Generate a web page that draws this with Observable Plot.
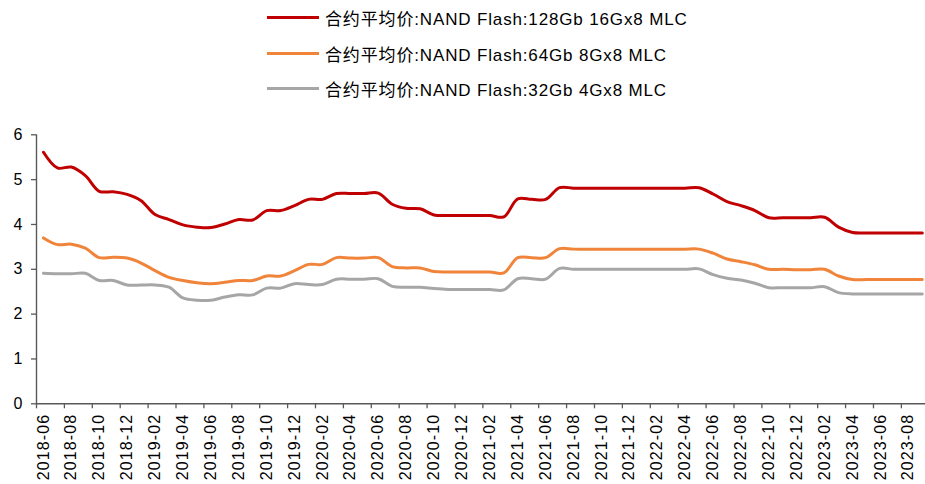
<!DOCTYPE html>
<html>
<head>
<meta charset="utf-8">
<script src="https://cdn.jsdelivr.net/npm/d3@7"></script>
<script src="https://cdn.jsdelivr.net/npm/@observablehq/plot@0.6"></script>
<style>
  html, body { margin: 0; padding: 0; background: #fff; }
  body { width: 925px; height: 484px; overflow: hidden; font-family: "Liberation Sans", "Noto Sans CJK SC", sans-serif; }
  #legend { position: relative; width: 925px; height: 110px; }
  .row { position: absolute; left: 267px; height: 20px; display: flex; align-items: center; font-size: 17px; letter-spacing: 0.85px; color: #000; white-space: nowrap; }
  .swatch { width: 52px; height: 3px; margin-right: 6px; }
  g[aria-label="x-axis tick label"] text { letter-spacing: 1.1px; }
</style>
</head>
<body>
<div id="legend"></div>
<div id="chart"></div>
<script>
const months = [
  "2018-06","2018-07","2018-08","2018-09","2018-10","2018-11","2018-12",
  "2019-01","2019-02","2019-03","2019-04","2019-05","2019-06","2019-07","2019-08","2019-09","2019-10","2019-11","2019-12",
  "2020-01","2020-02","2020-03","2020-04","2020-05","2020-06","2020-07","2020-08","2020-09","2020-10","2020-11","2020-12",
  "2021-01","2021-02","2021-03","2021-04","2021-05","2021-06","2021-07","2021-08","2021-09","2021-10","2021-11","2021-12",
  "2022-01","2022-02","2022-03","2022-04","2022-05","2022-06","2022-07","2022-08","2022-09","2022-10","2022-11","2022-12",
  "2023-01","2023-02","2023-03","2023-04","2023-05","2023-06","2023-07","2023-08","2023-09"
];
const seriesNames = [
  "合约平均价:NAND Flash:128Gb 16Gx8 MLC",
  "合约平均价:NAND Flash:64Gb 8Gx8 MLC",
  "合约平均价:NAND Flash:32Gb 4Gx8 MLC"
];
const seriesColors = ["#C00000", "#F0843A", "#A6A6A6"];
const red = [
  5.61,5.26,5.28,5.09,4.74,4.73,4.67,
  4.53,4.22,4.11,3.99,3.94,3.93,4.01,4.11,4.10,4.31,4.31,4.42,
  4.56,4.56,4.69,4.69,4.69,4.70,4.45,4.36,4.35,4.21,4.20,4.20,
  4.20,4.20,4.17,4.57,4.56,4.56,4.82,4.81,4.81,4.81,4.81,4.81,
  4.81,4.81,4.81,4.81,4.82,4.68,4.51,4.42,4.31,4.15,4.15,4.15,
  4.15,4.16,3.94,3.82,3.81,3.81,3.81,3.81,3.81
];
const orange = [
  3.70,3.55,3.56,3.47,3.26,3.27,3.25,
  3.14,2.97,2.82,2.75,2.70,2.68,2.71,2.75,2.75,2.85,2.85,2.97,
  3.11,3.11,3.26,3.25,3.25,3.26,3.06,3.03,3.03,2.95,2.94,2.94,
  2.94,2.94,2.92,3.26,3.26,3.26,3.46,3.45,3.45,3.45,3.45,3.45,
  3.45,3.45,3.45,3.45,3.45,3.36,3.23,3.17,3.10,3.00,3.00,2.99,
  2.99,3.00,2.85,2.77,2.77,2.77,2.77,2.77,2.77
];
const gray = [
  2.91,2.90,2.90,2.91,2.75,2.75,2.65,
  2.65,2.65,2.60,2.36,2.31,2.31,2.38,2.43,2.43,2.58,2.58,2.68,
  2.66,2.66,2.78,2.78,2.78,2.79,2.62,2.60,2.60,2.57,2.55,2.55,
  2.55,2.55,2.54,2.79,2.79,2.78,3.02,3.00,3.00,3.00,3.00,3.00,
  3.00,3.00,3.00,3.00,3.01,2.88,2.80,2.76,2.69,2.59,2.59,2.59,
  2.59,2.61,2.48,2.45,2.45,2.45,2.45,2.45,2.45
];
const yTicks = [0, 1, 2, 3, 4, 5, 6];

// legend
const legend = document.getElementById("legend");
const rowTops = [7, 43, 78];
seriesNames.forEach((name, k) => {
  const row = document.createElement("div");
  row.className = "row";
  row.style.top = rowTops[k] + "px";
  const sw = document.createElement("span");
  sw.className = "swatch";
  sw.style.background = seriesColors[k];
  const tx = document.createElement("span");
  tx.textContent = name;
  row.appendChild(sw); row.appendChild(tx);
  legend.appendChild(row);
});

// table
const valueSets = [red, orange, gray];
const data = [];
valueSets.forEach((vals, k) => {
  vals.forEach((v, i) => data.push({i: i + 0.5, value: v, series: seriesNames[k]}));
});
const boundaryTicks = months.map((m, i) => i).filter(i => i % 2 === 0);
const labelTicks = boundaryTicks.map(i => i + 0.5);

const axisColor = "#595959";
const chart = Plot.plot({
  width: 925,
  height: 374,
  marginLeft: 36,
  marginRight: 0,
  marginTop: 24.3,
  marginBottom: 80.7,
  style: {fontFamily: "'Liberation Sans', Arial, sans-serif", background: "#fff", overflow: "visible"},
  x: {type: "linear", domain: [0, 63.73], label: null},
  y: {domain: [0, 6], label: null},
  color: {domain: seriesNames, range: seriesColors},
  marks: [
    Plot.axisY({ticks: yTicks, tickFormat: d => String(d), tickSize: 5, tickPadding: 9, fontSize: 16, stroke: axisColor, fill: "#000", strokeWidth: 1.3, label: null}),
    Plot.axisX({ticks: boundaryTicks, tickSize: 5, tickFormat: () => "", stroke: axisColor, strokeWidth: 1.3, label: null}),
    Plot.axisX({ticks: labelTicks, tickSize: 0, tickPadding: 10, tickRotate: -90, fontSize: 16, fill: "#000",
      tickFormat: d => months[Math.round(d - 0.5)], label: null}),
    Plot.ruleX([0], {stroke: axisColor, strokeWidth: 1.4}),
    Plot.ruleY([0], {stroke: axisColor, strokeWidth: 1.4}),
    Plot.line(data, {x: "i", y: "value", z: "series", stroke: "series", strokeWidth: 3, curve: "catmull-rom"})
  ]
});
document.getElementById("chart").appendChild(chart);
</script>
</body>
</html>
